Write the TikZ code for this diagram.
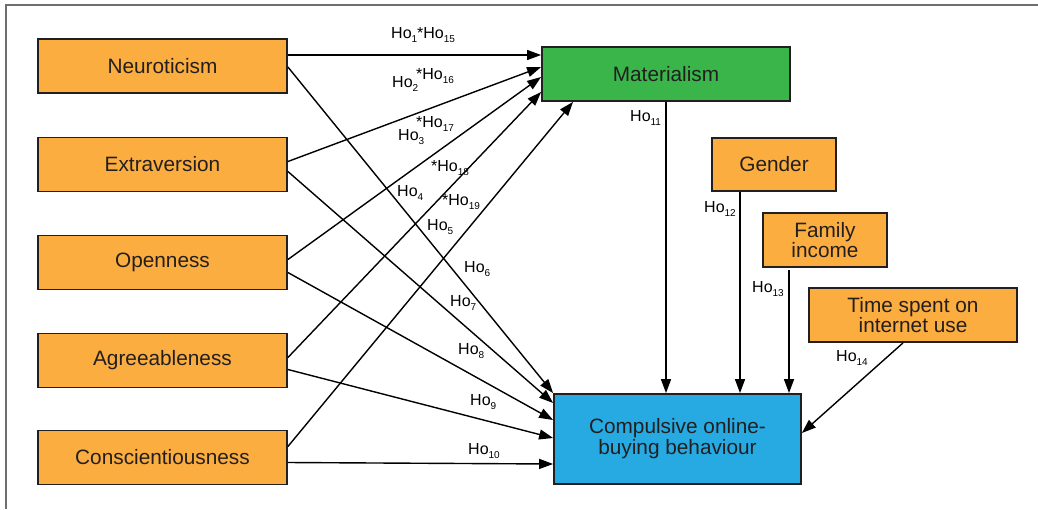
\documentclass[tikz,border=0pt]{standalone}
\usepackage{fontspec}
\setmainfont{Liberation Sans}
\usetikzlibrary{arrows.meta}
\definecolor{orangebox}{RGB}{251,173,63}
\definecolor{greenbox}{RGB}{57,181,74}
\definecolor{bluebox}{RGB}{39,170,225}
\definecolor{edge}{RGB}{35,31,32}
\definecolor{framegray}{RGB}{110,110,110}
\newcommand\Hsub[1]{\raisebox{-0.45ex}{\fontsize{10}{10}\selectfont #1}}
\newcommand\Ho[1]{Ho\Hsub{#1}}
\begin{document}
\begin{tikzpicture}[x=1pt,y=-1pt,
  box/.style={draw=edge,line width=1.8pt,text=edge,font=\fontsize{20.8}{22}\selectfont,inner sep=0pt,align=center},
  trait/.style={box,fill=orangebox,minimum width=249pt,minimum height=54pt},
  arr/.style={line width=1.4pt,draw=black,-{Triangle[length=14pt,width=10pt]}},
  lab/.style={font=\fontsize{16}{17}\selectfont,inner sep=0pt,text=black,anchor=west}]
\useasboundingbox (0,0) rectangle (1038,509);
\draw[framegray,line width=2pt] (6,509) -- (6,5) -- (1038,5);

% trait boxes
\node[trait] (neu) at (162.5,66) {Neuroticism};
\node[trait] (ext) at (162.5,164.5) {Extraversion};
\node[trait] (ope) at (162.5,262.5) {Openness};
\node[trait] (agr) at (162.5,360.5) {Agreeableness};
\node[trait] (con) at (162.5,457.5) {Conscientiousness};

% right boxes
\node[box,fill=greenbox,minimum width=248pt,minimum height=54pt] (mat) at (666,74) {Materialism};
\node[box,fill=bluebox,minimum width=247pt,minimum height=90pt] (cob) at (677.5,439) {Compulsive online-\\[-1pt]buying behaviour};
\node[box,fill=orangebox,minimum width=124pt,minimum height=53pt] (gen) at (774,164.5) {Gender};
\node[box,fill=orangebox,minimum width=124pt,minimum height=54pt] (fam) at (825,240) {Family\\[-2pt]income};
\node[box,fill=orangebox,minimum width=208pt,minimum height=54pt] (tim) at (913,315) {Time spent on\\[-2pt]internet use};

% to materialism
\draw[arr] ([yshift=11pt]neu.east) -- ([yshift=19pt]mat.west);
\draw[arr] ([yshift=3pt]ext.east) -- ([yshift=7pt]mat.west);
\draw[arr] ([yshift=3pt]ope.east) -- ([yshift=-3pt]mat.west);
\draw[arr] ([yshift=3pt]agr.east) -- ([yshift=-18pt]mat.west);
\draw[arr] ([yshift=11pt]con.east) -- ([xshift=-93pt]mat.south);

% to compulsive
\draw[arr] ([yshift=-1pt]neu.east) -- (cob.north west);
\draw[arr] ([yshift=-7pt]ext.east) -- ([yshift=36pt]cob.west);
\draw[arr] ([yshift=-10pt]ope.east) -- ([yshift=19pt]cob.west);
\draw[arr] ([yshift=-9pt]agr.east) -- ([yshift=1pt]cob.west);
\draw[arr] ([yshift=-5pt]con.east) -- ([yshift=-25pt]cob.west);

% vertical arrows
\draw[arr] (mat.south) -- (mat.south |- cob.north);
\draw[arr] ([xshift=-34pt]gen.south) -- ([xshift=-34pt]gen.south |- cob.north);
\draw[arr] ([xshift=-36pt,yshift=-2pt]fam.south) -- ([xshift=-36pt]fam.south |- cob.north);
\draw[arr] ([xshift=-10pt]tim.south) -- ([yshift=6pt]cob.east);

% labels
\node[lab] at (391,35) {\Ho{1}*\Ho{15}};
\node[lab] at (392,84) {\Ho{2}};
\node[lab] at (416,76) {*\Ho{16}};
\node[lab] at (398,137) {\Ho{3}};
\node[lab] at (416,124) {*\Ho{17}};
\node[lab] at (431,168) {*\Ho{18}};
\node[lab] at (397,193) {\Ho{4}};
\node[lab] at (442,202) {*\Ho{19}};
\node[lab] at (427,227) {\Ho{5}};
\node[lab] at (464,269) {\Ho{6}};
\node[lab] at (450,303) {\Ho{7}};
\node[lab] at (458,351) {\Ho{8}};
\node[lab] at (470,402) {\Ho{9}};
\node[lab] at (468,451) {\Ho{10}};
\node[lab] at (630,118) {\Ho{11}};
\node[lab] at (704,209) {\Ho{12}};
\node[lab] at (752,289) {\Ho{13}};
\node[lab] at (836,358) {\Ho{14}};
\end{tikzpicture}
\end{document}
